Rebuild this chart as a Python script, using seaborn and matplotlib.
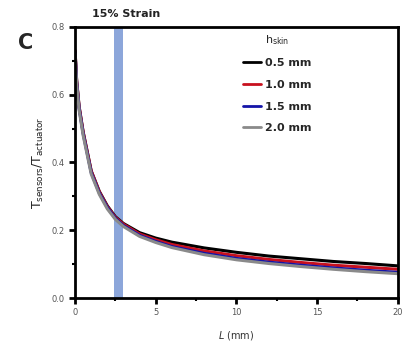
import numpy as np
import pandas as pd
import matplotlib
matplotlib.use("Agg")
import matplotlib.pyplot as plt
import seaborn as sns
from matplotlib.ticker import MultipleLocator, FormatStrFormatter

sns.set_theme(style="ticks")
plt.rcParams['font.family'] = ['DejaVu Sans']

L_mm = [0, 0.1, 0.25, 0.5, 1, 1.5, 2, 2.5, 3, 4, 5, 6, 8, 10, 12, 14, 16, 18, 20]
t_05 = [0.73, 0.64, 0.565, 0.49, 0.375, 0.315, 0.272, 0.240, 0.220, 0.193, 0.177, 0.165, 0.148, 0.135, 0.124, 0.116, 0.108, 0.102, 0.095]
t_10 = [0.73, 0.64, 0.565, 0.49, 0.375, 0.314, 0.270, 0.238, 0.218, 0.189, 0.172, 0.158, 0.139, 0.125, 0.114, 0.105, 0.097, 0.091, 0.085]
t_15 = [0.725, 0.635, 0.56, 0.485, 0.37, 0.31, 0.267, 0.235, 0.214, 0.185, 0.167, 0.152, 0.132, 0.117, 0.106, 0.097, 0.089, 0.082, 0.076]
t_20 = [0.72, 0.63, 0.555, 0.48, 0.366, 0.306, 0.263, 0.232, 0.211, 0.182, 0.164, 0.149, 0.128, 0.113, 0.102, 0.093, 0.085, 0.078, 0.072]
series_labels = ["0.5 mm", "1.0 mm", "1.5 mm", "2.0 mm"]
colors = ["#000000", "#c8101e", "#1414a8", "#8a8a8a"]
strain_band = (2.4, 3.0)

df = pd.concat([
    pd.DataFrame({"L": L_mm, "T": vals, "h": lab})
    for vals, lab in zip([t_05, t_10, t_15, t_20], series_labels)
])

fig = plt.figure(figsize=(4.08, 3.45), dpi=100)
ax = fig.add_axes([0.184, 0.136, 0.791, 0.786])

ax.axvspan(*strain_band, color="#8ca6da", lw=0, zorder=0)
sns.lineplot(data=df, x="L", y="T", hue="h", palette=colors, linewidth=2.2,
             ax=ax, legend=True)

ax.set_xlim(0, 20)
ax.set_ylim(0, 0.8)
ax.xaxis.set_major_locator(MultipleLocator(5))
ax.xaxis.set_minor_locator(MultipleLocator(2.5))
ax.yaxis.set_major_locator(MultipleLocator(0.2))
ax.yaxis.set_minor_locator(MultipleLocator(0.1))
ax.xaxis.set_major_formatter(FormatStrFormatter('%d'))
ax.yaxis.set_major_formatter(FormatStrFormatter('%.1f'))
for s in ax.spines.values():
    s.set_linewidth(2)
    s.set_color("black")
ax.tick_params(which="major", direction="out", length=4, width=2,
               labelsize=6, labelcolor="#555555", color="black")
ax.tick_params(which="minor", direction="out", length=2.5, width=1.5, color="black")

ax.set_xlabel(r"$L$ (mm)", fontsize=7, color="#333333", labelpad=8)
ax.set_ylabel(r"T$_{\rm sensors}$/T$_{\rm actuator}$", fontsize=9, color="#222222", labelpad=4)

handles, labels = ax.get_legend_handles_labels()
leg = ax.legend(handles, labels, title=r"h$_{\rm skin}$", frameon=False,
                loc="upper left", bbox_to_anchor=(0.49, 1.015),
                prop={"weight": "bold", "size": 8}, handlelength=1.6,
                handletextpad=0.4, labelspacing=1.05, title_fontsize=8)
for line in leg.get_lines():
    line.set_linewidth(2)

fig.text(0.045, 0.875, "C", fontsize=15, fontweight="bold", ha="left", va="center")
fig.text(0.31, 0.958, "15% Strain", fontsize=8, fontweight="bold", ha="center",
         va="center", color="#222222")

fig.savefig("out.png", dpi=100)
